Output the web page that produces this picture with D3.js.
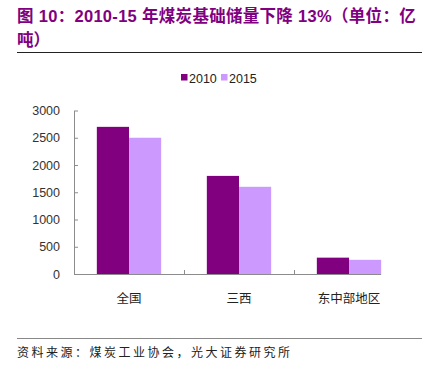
<!DOCTYPE html>
<html><head><meta charset="utf-8">
<script src="https://cdn.jsdelivr.net/npm/d3@7"></script>
<style>
body{margin:0;background:#fff;}
svg{display:block;}
</style></head>
<body>
<svg id="c" width="437" height="370"></svg>
<script>
const categories = ["全国", "三西", "东中部地区"];
const seriesNames = ["2010", "2015"];
const values2010 = [2700, 1800, 300];
const values2015 = [2500, 1600, 260];
const yTicks = [0, 500, 1000, 1500, 2000, 2500, 3000];
const colors = ["#800080", "#cc99ff"];
const titleLine1 = "图 10：2010-15 年煤炭基础储量下降 13%（单位：亿";
const titleLine2 = "吨）";
const sourceText = "资料来源：煤炭工业协会，光大证券研究所";

const svg = d3.select("#c");
const latin = "'Liberation Sans', Arial, sans-serif";
const cjk = "'Liberation Sans', 'Noto Sans CJK SC', sans-serif";

// Title
const title = svg.append("g").attr("fill", "#800080").attr("font-family", cjk)
  .attr("font-size", 16.5).attr("font-weight", "bold");
title.append("text").attr("x", 17).attr("y", 22).attr("letter-spacing", 0.3).text(titleLine1);
title.append("text").attr("x", 17).attr("y", 46).text(titleLine2);
svg.append("line").attr("x1", 17).attr("x2", 422).attr("y1", 52.5).attr("y2", 52.5)
  .attr("stroke", "#222").attr("stroke-width", 1.2);

// Scales
const x0 = d3.scaleBand().domain(categories).range([74, 404]).padding(0);
const x1 = d3.scaleBand().domain(seriesNames).range([0, x0.bandwidth()]).paddingInner(0).paddingOuter(0.71);
const y = d3.scaleLinear().domain([0, 3000]).range([274, 110.5]);

const data = categories.map((c, i) => ({cat: c, vals: [values2010[i], values2015[i]]}));

// Bars
const groups = svg.append("g").selectAll("g").data(data).join("g")
  .attr("transform", d => `translate(${x0(d.cat)},0)`);
groups.selectAll("rect").data(d => d.vals.map((v, j) => ({s: seriesNames[j], v, j})))
  .join("rect")
  .attr("x", d => x1(d.s))
  .attr("width", x1.bandwidth())
  .attr("y", d => y(d.v))
  .attr("height", d => y(0) - y(d.v))
  .attr("fill", d => colors[d.j]);

const axisColor = "#8c8c8c";
// Y axis
const yAxis = d3.axisLeft(y).tickValues(yTicks).tickFormat(d3.format("d"))
  .tickSizeInner(-4).tickSizeOuter(0).tickPadding(14);
const yg = svg.append("g").attr("transform", "translate(74,0)").call(yAxis);
yg.select(".domain").attr("stroke", axisColor);
yg.selectAll(".tick line").attr("stroke", axisColor);
yg.selectAll(".tick text").attr("font-family", latin).attr("font-size", 12.5).attr("fill", "#333");

// X axis (domain ends at last bar's edge as in the reference)
const lastCat = categories[categories.length - 1];
const xEnd = x0(lastCat) + x1(seriesNames[1]) + x1.bandwidth();
svg.append("line").attr("x1", 74).attr("x2", xEnd).attr("y1", y(0) + 0.5).attr("y2", y(0) + 0.5)
  .attr("stroke", axisColor);
const boundaries = categories.slice(1).map(c => x0(c));
svg.append("g").selectAll("line").data(boundaries).join("line")
  .attr("x1", d => d + 0.5).attr("x2", d => d + 0.5)
  .attr("y1", y(0)).attr("y2", y(0) - 4).attr("stroke", axisColor);
svg.append("g").selectAll("text").data(categories).join("text")
  .attr("x", d => x0(d) + x0.bandwidth() / 2)
  .attr("y", 302.5)
  .attr("text-anchor", "middle")
  .attr("font-family", cjk).attr("font-size", 12.5).attr("fill", "#222")
  .text(d => d);

// Legend
const legend = svg.append("g").selectAll("g").data(seriesNames).join("g")
  .attr("transform", (d, i) => `translate(${181 + i * 40},0)`);
legend.append("rect").attr("x", 0).attr("y", 74).attr("width", 6.5).attr("height", 6.5)
  .attr("fill", (d, i) => colors[i]);
legend.append("text").attr("x", 8).attr("y", 82.5).attr("font-family", latin)
  .attr("font-size", 12.5).attr("fill", "#222").text(d => d);

// Source
svg.append("line").attr("x1", 17).attr("x2", 422).attr("y1", 338.5).attr("y2", 338.5)
  .attr("stroke", "#888").attr("stroke-width", 1.2);
svg.append("text").attr("x", 17).attr("y", 357).attr("font-family", "'Noto Sans CJK SC', sans-serif")
  .attr("font-size", 12).attr("letter-spacing", 2.5).attr("fill", "#222").text(sourceText);
</script>
</body></html>
